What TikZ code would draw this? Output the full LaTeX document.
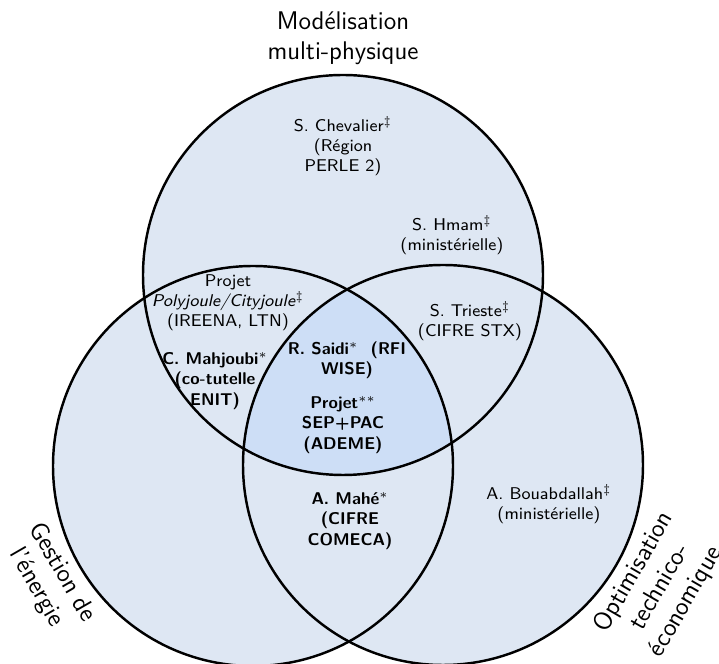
\documentclass[tikz,border=0pt]{standalone}
\definecolor{zone}{RGB}{222,231,243}
\definecolor{coeur}{RGB}{205,222,246}
\begin{document}
\begin{tikzpicture}[x=0.47pt,y=-0.47pt]
	\tikzstyle{ensemble}=[circle,fill=zone,inner sep=0pt,minimum size=188pt]
	\tikzstyle{bord}=[draw=black,line width=1.15pt]
	\tikzstyle{personne}=[align=center,font=\footnotesize\sffamily]
	\tikzstyle{projet}=[personne,font=\footnotesize\sffamily\bfseries]
	\tikzstyle{titre}=[align=center,font=\large\sffamily]
	\useasboundingbox (0,0) rectangle (719,664);
	\begin{scope}
		\node [ensemble] (modele) at (343,275) {};
		\node [ensemble] (gestion) at (253,466) {};
		\node [ensemble] (optim) at (443,465) {};
		
		\begin{scope}
			\clip (modele.center) circle (94pt);
			\clip (gestion.center) circle (94pt);
			\fill [coeur] (optim.center) circle (94pt);
		\end{scope}
		
		\draw [bord] (modele.center) circle (94pt);
		\draw [bord] (gestion.center) circle (94pt);
		\draw [bord] (optim.center) circle (94pt);
	\end{scope}
	
	\node [titre] (titremodele) at (343,38) {Modélisation\\multi-physique};
	\node [titre,rotate=-60] (titregestion) at (49,580) {Gestion de\\l'énergie};
	\node [titre,rotate=60] (titreoptim) at (660,587) {Optimisation\\technico-\\économique};
	
	\node [personne] (chevalier) at (343,146) {S. Chevalier$^\ddagger$\\(Région\\PERLE 2)};
	\node [personne] (hmam) at (452,235) {S. Hmam$^\ddagger$\\(ministérielle)};
	\node [personne] (polyjoule) at (228,303) {Projet\\\textit{Polyjoule/Cityjoule}$^\ddagger$\\(IREENA, LTN)};
	\node [personne] (trieste) at (470,321) {S. Trieste$^\ddagger$\\(CIFRE STX)};
	\node [personne] (bouabdallah) at (549,504) {A. Bouabdallah$^\ddagger$\\(ministérielle)};
	\node [projet] (mahjoubi) at (215,381) {C. Mahjoubi$^*$\\(co-tutelle\\ENIT)};
	\node [projet] (saidi) at (347,360) {R. Saidi$^*$\ \ (RFI\\WISE)};
	\node [projet] (seppac) at (343,425) {Projet$^{**}$\\SEP+PAC\\(ADEME)};
	\node [projet] (mahe) at (350,521) {A. Mahé$^*$\\(CIFRE\\COMECA)};
\end{tikzpicture}
\end{document}
